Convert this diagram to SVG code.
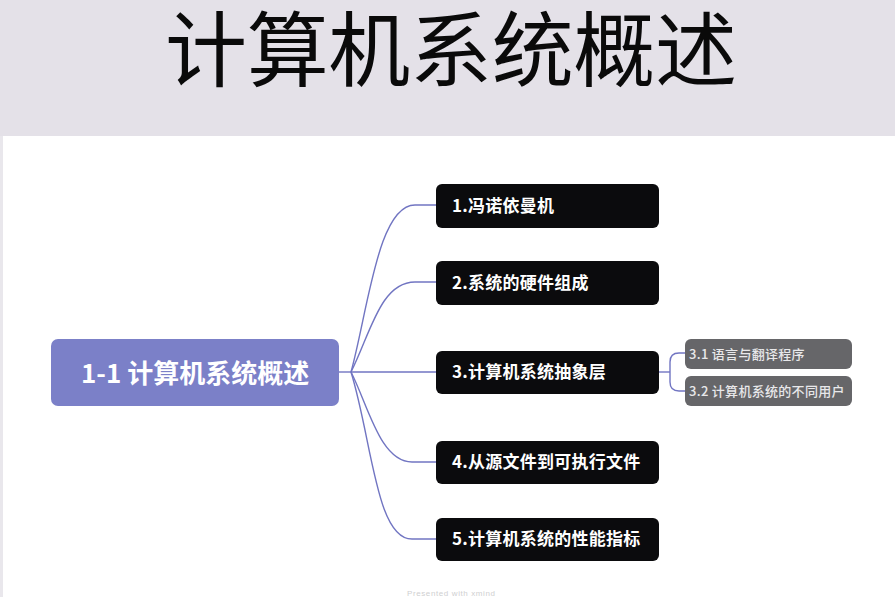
<svg xmlns="http://www.w3.org/2000/svg" width="895" height="597" viewBox="0 0 895 597">
<style>
text{font-family:"Noto Sans CJK SC","Liberation Sans",sans-serif}
.n{fill:#0b0b0d}
.t{fill:#fff;font-size:17px;font-weight:700;letter-spacing:.25px}
.s{fill:#666669}
.st{fill:#e8e8ea;font-size:13px;font-weight:500;letter-spacing:.3px}
.c{fill:none;stroke:#7175c2;stroke-width:1.4}
</style>
<rect width="895" height="597" fill="#fff"/>
<g id="header">
<rect width="895" height="136" fill="#e4e1e8"/>
<rect x="0" y="136" width="3" height="461" fill="#e9e7ec"/>
<text x="451" y="80" text-anchor="middle" font-size="82" fill="#0a0a0a" textLength="572" style="font-family:'Liberation Sans','Noto Sans CJK SC',sans-serif">计算机系统概述</text>
</g>
<g id="connectors">
<path class="c" d="M339 372H351"/>
<path class="c" d="M351 372C368 310 378 205 415 205H436"/>
<path class="c" d="M351 372C370 335 380 282 415 282H436"/>
<path class="c" d="M351 372H436"/>
<path class="c" d="M351 372C368 405 380 462 412 462H436"/>
<path class="c" d="M351 372C372 440 376 539 412 539H436"/>
<path class="c" d="M659 372H670"/>
<path class="c" d="M670 372V362Q670 353 679 353H685"/>
<path class="c" d="M670 372V382Q670 391 679 391H685"/>
</g>
<g id="root">
<rect x="51" y="339" width="288" height="67" rx="7" fill="#7b80c8"/>
<text x="81" y="383" font-size="26" font-weight="700" fill="#fff">1-1 计算机系统概述</text>
</g>
<g id="node1">
<rect class="n" x="436" y="184" width="223" height="44" rx="6"/>
<text class="t" x="452" y="212">1.冯诺依曼机</text>
</g>
<g id="node2">
<rect class="n" x="436" y="261" width="223" height="44" rx="6"/>
<text class="t" x="452" y="289">2.系统的硬件组成</text>
</g>
<g id="node3">
<rect class="n" x="436" y="351" width="223" height="43" rx="6"/>
<text class="t" x="452" y="378">3.计算机系统抽象层</text>
</g>
<g id="node4">
<rect class="n" x="436" y="441" width="223" height="43" rx="6"/>
<text class="t" x="452" y="468">4.从源文件到可执行文件</text>
</g>
<g id="node5">
<rect class="n" x="436" y="518" width="223" height="43" rx="6"/>
<text class="t" x="452" y="545">5.计算机系统的性能指标</text>
</g>
<g id="node31">
<rect class="s" x="685" y="339" width="167" height="30" rx="6"/>
<text class="st" x="689" y="359">3.1 语言与翻译程序</text>
</g>
<g id="node32">
<rect class="s" x="685" y="376" width="167" height="30" rx="6"/>
<text class="st" x="689" y="396">3.2 计算机系统的不同用户</text>
</g>
<text id="footer" x="451" y="596" text-anchor="middle" font-size="8" fill="#cfcfd1" style="font-family:'Liberation Sans',sans-serif" textLength="88">Presented with xmind</text>
</svg>
